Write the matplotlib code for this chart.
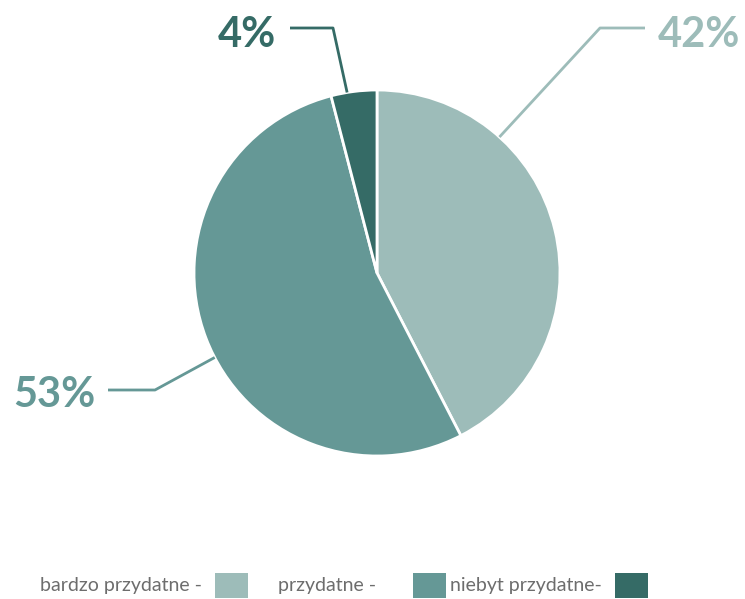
import matplotlib
matplotlib.use("Agg")
import matplotlib.pyplot as plt
import numpy as np

# data
categories = ['bardzo przydatne -', 'przydatne -', 'niebyt przydatne-']
values = [42, 53, 4]
labels = ['42%', '53%', '4%']
colors = ['#9dbcb9', '#659896', '#356b66']

W, H = 745, 599
fig = plt.figure(figsize=(W / 100, H / 100), dpi=100)
ax = fig.add_axes([0, 0, 1, 1])

cx, cy, r = 377, H - 273, 183
wedges, _ = ax.pie(values, colors=colors, startangle=90, counterclock=False,
                   center=(cx, cy), radius=r, frame=True,
                   wedgeprops=dict(edgecolor='white', linewidth=2))
ax.set_xlim(0, W)
ax.set_ylim(0, H)
ax.set_aspect('equal')
ax.axis('off')

# leader lines: angle on the rim, elbow point, end point, text anchor
leaders = [
    (48, (600, 28), (645, 28), (658, 35), 'left'),
    (207.5, (155, 390), (108, 390), (95, 395), 'right'),
    (99.4, (333, 28), (290, 28), (276, 35), 'right'),
]
for (ang, elbow, end, tpos, ha), lab, col in zip(leaders, labels, colors):
    a = np.deg2rad(ang)
    x0, y0 = cx + r * np.cos(a), cy + r * np.sin(a)
    xs = [x0, elbow[0], end[0]]
    ys = [y0, H - elbow[1], H - end[1]]
    ax.plot(xs, ys, color=col, lw=2, solid_capstyle='butt')
    ax.text(tpos[0], H - tpos[1], lab, color=col, fontsize=30,
            fontweight='bold', family='Lato', ha=ha, va='center')

# legend
legend_text_x = [40, 278, 450]
legend_box_x = [215, 413, 615]
for name, tx, bx, col in zip(categories, legend_text_x, legend_box_x, colors):
    ax.text(tx, H - 586, name, color='#6d6d6d', fontsize=14,
            family='Lato', ha='left', va='center')
    ax.add_patch(plt.Rectangle((bx, H - 598), 33, 25, color=col, lw=0))

fig.savefig('out.png', dpi=100)
